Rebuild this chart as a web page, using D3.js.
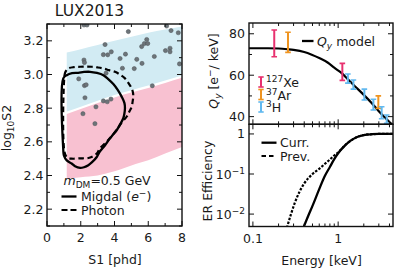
<!DOCTYPE html>
<html><head><meta charset="utf-8">
<script src="https://cdn.jsdelivr.net/npm/d3@7"></script>
<style>
body{margin:0;background:#fff}
svg{display:block}
text{font-family:"DejaVu Sans",sans-serif;fill:#1a1a1a}
</style>
</head><body>
<script>
// ---------------- data ----------------
// Left panel: LUX2013 events
const s1Pts = [2.19,2.37,4.82,7.09,7.35,7.78,3.44,5.91,5.77,5.97,5.61,3.34,3.60,3.81,4.33,4.65,5.32,5.63,6.36,7.02,7.29,7.29,2.19,2.22,4.47,5.17,3.5,7.85,1.88,2.22,2.32,2.25,2.90,2.13,3.34,3.57,3.79,2.84,6.24];
const s2Pts = [3.294,3.294,3.255,3.288,3.261,3.248,3.178,3.208,3.184,3.184,3.166,3.118,3.117,3.135,3.095,3.121,3.09,3.066,3.107,3.142,3.156,3.135,3.086,3.071,3.037,3.035,3.008,3.063,2.974,2.934,2.939,2.862,2.808,2.767,2.843,2.838,2.854,2.708,2.933];
// bands
const bandS1 = [1.17, 2, 3, 4, 5, 6, 7, 8];
const blueHi = [3.13, 3.15, 3.175, 3.2, 3.225, 3.248, 3.268, 3.285];
const blueLo = [2.78, 2.809, 2.844, 2.878, 2.907, 2.934, 2.964, 2.994];
const pinkHi = [2.766, 2.795, 2.83, 2.864, 2.893, 2.92, 2.95, 2.98];
const pinkLo = [2.382, 2.39, 2.40, 2.425, 2.46, 2.49, 2.53, 2.57];
// contours
const migdalS1 = [0.966,0.966,1.167,1.48,1.85,2.19,2.55,2.96,3.34,3.63,3.93,4.18,4.43,4.59,4.62,4.58,4.52,4.36,4.13,3.91,3.73,3.44,3.14,2.95,2.67,2.45,2.19,1.96,1.66,1.46,1.17,1.0];
const migdalS2 = [2.55,2.977,2.996,3.008,3.01,3.015,3.016,3.009,2.996,2.973,2.943,2.91,2.867,2.83,2.80,2.764,2.74,2.708,2.669,2.642,2.621,2.58,2.544,2.51,2.479,2.461,2.449,2.445,2.455,2.471,2.49,2.52];
const photonS1 = [1.04,1.04,1.10,1.26,1.6,1.96,2.31,2.65,2.99,3.34,3.67,4.03,4.33,4.62,4.83,5.02,5.10,5.11,5.07,5.02,4.89,4.74,4.44,4.15,3.83,3.54,3.14,2.95,2.67,2.45,1.96,1.46,1.19];
const photonS2 = [2.538,2.996,3.017,3.036,3.044,3.046,3.047,3.046,3.042,3.036,3.026,3.016,2.999,2.977,2.949,2.917,2.889,2.867,2.836,2.808,2.782,2.752,2.717,2.675,2.633,2.601,2.562,2.53,2.511,2.504,2.502,2.5,2.508];

// Right top: Qy model and calibrations
const qyE = [0.09,0.15,0.2,0.26,0.3,0.4,0.49,0.6,0.76,0.9,1.1,1.3,1.57,2.0,2.47,3.0,3.87,4.4];
const qyV = [73.0,73.0,72.9,72.5,72.2,71.2,69.9,68.3,66.0,63.6,61.0,58.0,54.7,50.5,46.6,42.6,38.0,35.8];
const xeE = [0.178, 1.12], xeLo = [68.9, 57.5], xeHi = [81.8, 65.7];
const arE = [0.258, 2.96], arLo = [71.0, 44.0], arHi = [80.7, 50.0];
const hE = [1.30, 1.51, 2.03, 2.59, 3.24, 3.71];
const hLo = [56.2, 53.3, 48.0, 43.2, 39.0, 36.8];
const hHi = [60.6, 57.7, 53.3, 48.4, 44.8, 40.8];

// Right bottom: ER efficiency
const currE = [0.39,0.45,0.5,0.6,0.7,0.8,0.9,1.0,1.2,1.4,1.7,2.0,2.5,3.0,4.4];
const currV = [0.0045,0.0095,0.016,0.042,0.09,0.15,0.235,0.33,0.51,0.68,0.85,0.94,0.985,1.0,1.0];
const prevE = [0.25,0.28,0.31,0.35,0.4,0.5,0.6,0.7,0.8,0.9,1.0,1.2,1.4,1.7,2.0,2.5,3.0,4.4];
const prevV = [0.0045,0.01,0.019,0.035,0.058,0.1,0.135,0.18,0.23,0.29,0.345,0.52,0.68,0.85,0.94,0.985,1.0,1.0];

// tick labels
const s1Ticks = [0,2,4,6,8];
const s1Minor = [1,3,5,7];
const s2Ticks = [2.2,2.4,2.6,2.8,3.0,3.2];
const s2Minor = [2.1,2.3,2.5,2.7,2.9,3.1,3.3];
const eTicks = [0.1, 1];
const eMinor = [0.2,0.3,0.4,0.5,0.6,0.7,0.8,0.9,2,3,4];
const qyTicks = [40,60,80];
const qyMinor = [50,70];
const effTicks = [1, 0.1, 0.01];
const effLabels = [["1",""],["10","\u22121"],["10","\u22122"]];

// ---------------- drawing ----------------
const W = 395, H = 274;
const svg = d3.select("body").append("svg").attr("width", W).attr("height", H);
const defs = svg.append("defs");

const COL_BLUE = "#d2ebf3", COL_PINK = "#f8c1d1";
const COL_XE = "#e8316f", COL_AR = "#ef9420", COL_H = "#62b9ef";

function tickAxes(g, scaleX, scaleY, xMaj, xMin, yMaj, yMin, x0, x1, y0, y1) {
  const grp = g.append("g").attr("stroke", "#111").attr("stroke-width", 1);
  const mk = (vals, len, f) => vals.forEach(v => f(v, len));
  // bottom & top
  [[xMaj,5],[xMin,3]].forEach(([vals,len]) => vals.forEach(v => {
    const px = scaleX(v);
    grp.append("line").attr("x1",px).attr("x2",px).attr("y1",y0).attr("y2",y0-len);
    grp.append("line").attr("x1",px).attr("x2",px).attr("y1",y1).attr("y2",y1+len);
  }));
  [[yMaj,5],[yMin,3]].forEach(([vals,len]) => vals.forEach(v => {
    const py = scaleY(v);
    grp.append("line").attr("x1",x0).attr("x2",x0+len).attr("y1",py).attr("y2",py);
    grp.append("line").attr("x1",x1).attr("x2",x1-len).attr("y1",py).attr("y2",py);
  }));
}

// ===== Left panel =====
const xL = d3.scaleLinear().domain([0, 8]).range([47, 182]);
const yL = d3.scaleLinear().domain([2.1, 3.3]).range([226, 24]);
defs.append("clipPath").attr("id","clipL").append("rect")
  .attr("x",47).attr("y",24).attr("width",135).attr("height",202);
const gL = svg.append("g");
const pL = gL.append("g").attr("clip-path","url(#clipL)");

const areaBand = (lo, hi) => d3.area()
  .x((d,i) => xL(bandS1[i])).y0((d,i) => yL(lo[i])).y1((d,i) => yL(hi[i]))
  .curve(d3.curveMonotoneX)(bandS1);
pL.append("path").attr("d", areaBand(blueLo, blueHi)).attr("fill", COL_BLUE);
pL.append("path").attr("d", areaBand(pinkLo, pinkHi)).attr("fill", COL_PINK);

pL.selectAll("circle.ev").data(s1Pts).join("circle").attr("class","ev")
  .attr("cx", d => xL(d)).attr("cy", (d,i) => yL(s2Pts[i])).attr("r", 2.1)
  .attr("fill", "#6d7479").attr("stroke", "#4d5357").attr("stroke-width", 0.5);

const contourLine = d3.line().x(d => xL(d[0])).y(d => yL(d[1])).curve(d3.curveCatmullRomClosed.alpha(0.5));
pL.append("path").attr("d", contourLine(photonS1.map((v,i)=>[v,photonS2[i]])))
  .attr("fill","none").attr("stroke","#000").attr("stroke-width",2.2).attr("stroke-dasharray","5.5,3.5");
pL.append("path").attr("d", contourLine(migdalS1.map((v,i)=>[v,migdalS2[i]])))
  .attr("fill","none").attr("stroke","#000").attr("stroke-width",2.3);

tickAxes(gL, xL, yL, s1Ticks, s1Minor, s2Ticks, s2Minor, 47, 182, 226, 24);
gL.append("rect").attr("x",47).attr("y",24).attr("width",135).attr("height",202)
  .attr("fill","none").attr("stroke","#111").attr("stroke-width",1.4);

gL.selectAll("text.xt").data(s1Ticks).join("text").attr("class","xt")
  .attr("x", d => xL(d)).attr("y", 241.5).attr("text-anchor","middle").attr("font-size",12.5).text(d => d);
gL.selectAll("text.yt").data(s2Ticks).join("text").attr("class","yt")
  .attr("x", 43.5).attr("y", d => yL(d) + 4.5).attr("text-anchor","end").attr("font-size",12.5).text(d => d.toFixed(1));

svg.append("text").attr("x", 89.5).attr("y", 16).attr("text-anchor","middle").attr("font-size",15.5).text("LUX2013");
svg.append("text").attr("x", 115).attr("y", 264).attr("text-anchor","middle").attr("font-size",12.5).text("S1 [phd]");
const ylab = svg.append("text").attr("transform","translate(10.5,128) rotate(-90)").attr("text-anchor","middle").attr("font-size",12.5);
ylab.append("tspan").text("log");
ylab.append("tspan").attr("font-size",9).attr("dy",3).text("10");
ylab.append("tspan").attr("dy",-3).text("S2");

// left legend
const mtxt = svg.append("text").attr("x", 63.5).attr("y", 185).attr("font-size",12.5);
mtxt.append("tspan").attr("font-style","italic").text("m");
mtxt.append("tspan").attr("font-size",9).attr("dy",3).text("DM");
mtxt.append("tspan").attr("dy",-3).text("=0.5 GeV");
svg.append("line").attr("x1",61.5).attr("x2",76.5).attr("y1",196.5).attr("y2",196.5).attr("stroke","#000").attr("stroke-width",2.3);
const mg = svg.append("text").attr("x", 81).attr("y", 200.5).attr("font-size",12.5);
mg.append("tspan").text("Migdal (");
mg.append("tspan").attr("font-style","italic").text("e");
mg.append("tspan").attr("font-size",9).attr("dy",-5).text("\u2212");
mg.append("tspan").attr("dy",5).text(")");
svg.append("line").attr("x1",61.5).attr("x2",76.5).attr("y1",210).attr("y2",210).attr("stroke","#000").attr("stroke-width",2.2).attr("stroke-dasharray","6,3");
svg.append("text").attr("x", 81).attr("y", 214.5).attr("font-size",12.5).text("Photon");

// ===== Right panels =====
const xR = d3.scaleLog().domain([0.09, 4.4]).range([249, 393]);
const yQ = d3.scaleLinear().domain([36.3, 85.2]).range([124.3, 23]);
const yE = d3.scaleLog().domain([0.0049, 1.74]).range([226.5, 124.3]);

defs.append("clipPath").attr("id","clipT").append("rect").attr("x",249).attr("y",23).attr("width",144).attr("height",101.3);
defs.append("clipPath").attr("id","clipB").append("rect").attr("x",249).attr("y",124.3).attr("width",144).attr("height",102.2);

// top panel
const gT = svg.append("g");
const pT = gT.append("g").attr("clip-path","url(#clipT)");
pT.append("path").attr("d", d3.line().x((d,i)=>xR(qyE[i])).y(d=>yQ(d)).curve(d3.curveMonotoneX)(qyV))
  .attr("fill","none").attr("stroke","#000").attr("stroke-width",2.2);

function errbars(g, E, lo, hi, col) {
  E.forEach((e,i) => {
    const x = xR(e), y1 = yQ(lo[i]), y2 = yQ(hi[i]);
    g.append("line").attr("x1",x).attr("x2",x).attr("y1",y1).attr("y2",y2).attr("stroke",col).attr("stroke-width",2);
    [y1,y2].forEach(y => g.append("line").attr("x1",x-2.8).attr("x2",x+2.8).attr("y1",y).attr("y2",y).attr("stroke",col).attr("stroke-width",1.6));
  });
}
errbars(pT, xeE, xeLo, xeHi, COL_XE);
errbars(pT, arE, arLo, arHi, COL_AR);
errbars(pT, hE, hLo, hHi, COL_H);

tickAxes(gT, xR, yQ, eTicks, eMinor, qyTicks, qyMinor, 249, 393, 124.3, 23);
gT.append("rect").attr("x",249).attr("y",23).attr("width",144).attr("height",101.3)
  .attr("fill","none").attr("stroke","#111").attr("stroke-width",1.4);
gT.selectAll("text.qt").data(qyTicks).join("text").attr("class","qt")
  .attr("x",245).attr("y",d=>yQ(d)+4.5).attr("text-anchor","end").attr("font-size",12.5).text(d=>d);

// top legend
svg.append("line").attr("x1",302).attr("x2",313.5).attr("y1",41).attr("y2",41).attr("stroke","#000").attr("stroke-width",2.3);
const ql = svg.append("text").attr("x",317).attr("y",45.5).attr("font-size",12.5);
ql.append("tspan").attr("font-style","italic").text("Q");
ql.append("tspan").attr("font-style","italic").attr("font-size",9).attr("dy",3).text("y");
ql.append("tspan").attr("dy",-3).text(" model");

const isoLeg = [["127","Xe",COL_XE,82],["37","Ar",COL_AR,94.5],["3","H",COL_H,107]];
isoLeg.forEach(([m,el,col,yc]) => {
  svg.append("line").attr("x1",261).attr("x2",261).attr("y1",yc-5).attr("y2",yc+5).attr("stroke",col).attr("stroke-width",2);
  [yc-5,yc+5].forEach(y => svg.append("line").attr("x1",258.3).attr("x2",263.7).attr("y1",y).attr("y2",y).attr("stroke",col).attr("stroke-width",1.6));
  const t = svg.append("text").attr("x",266).attr("y",yc+5).attr("font-size",12.5);
  t.append("tspan").attr("font-size",9).attr("dy",-5).text(m);
  t.append("tspan").attr("dy",5).text(el);
});

const qyl = svg.append("text").attr("transform","translate(217.5,71) rotate(-90)").attr("text-anchor","middle").attr("font-size",12.5);
qyl.append("tspan").attr("font-style","italic").text("Q");
qyl.append("tspan").attr("font-style","italic").attr("font-size",9).attr("dy",3).text("y");
qyl.append("tspan").attr("dy",-3).text(" [e");
qyl.append("tspan").attr("font-size",9).attr("dy",-5).text("\u2212");
qyl.append("tspan").attr("dy",5).text("/ keV]");

// bottom panel
const gB = svg.append("g");
const pB = gB.append("g").attr("clip-path","url(#clipB)");
pB.append("path").attr("d", d3.line().x((d,i)=>xR(prevE[i])).y(d=>yE(d)).curve(d3.curveMonotoneX)(prevV))
  .attr("fill","none").attr("stroke","#000").attr("stroke-width",2.2).attr("stroke-dasharray","2.5,1.5");
pB.append("path").attr("d", d3.line().x((d,i)=>xR(currE[i])).y(d=>yE(d)).curve(d3.curveMonotoneX)(currV))
  .attr("fill","none").attr("stroke","#000").attr("stroke-width",2.3);

tickAxes(gB, xR, yE, eTicks, eMinor, effTicks, [], 249, 393, 226.5, 124.3);
gB.append("rect").attr("x",249).attr("y",124.3).attr("width",144).attr("height",102.2)
  .attr("fill","none").attr("stroke","#111").attr("stroke-width",1.4);
effTicks.forEach((v,i) => {
  const t = gB.append("text").attr("x",245).attr("y",yE(v)+4.5).attr("text-anchor","end").attr("font-size",12.5);
  t.append("tspan").text(effLabels[i][0]);
  if (effLabels[i][1]) t.append("tspan").attr("font-size",9).attr("dy",-5).text(effLabels[i][1]);
});
gB.selectAll("text.et").data(eTicks).join("text").attr("class","et")
  .attr("x",d=>xR(d)).attr("y",243).attr("text-anchor","middle").attr("font-size",12.5).text(d=>d);

svg.append("text").attr("x",321.5).attr("y",265).attr("text-anchor","middle").attr("font-size",12.5).text("Energy [keV]");
svg.append("text").attr("transform","translate(211.5,181) rotate(-90)").attr("text-anchor","middle").attr("font-size",12.5).text("ER Efficiency");

// bottom legend
svg.append("line").attr("x1",261.5).attr("x2",276.5).attr("y1",142.7).attr("y2",142.7).attr("stroke","#000").attr("stroke-width",2.3);
svg.append("text").attr("x",280).attr("y",147).attr("font-size",12.5).text("Curr.");
svg.append("line").attr("x1",261.5).attr("x2",276.5).attr("y1",156).attr("y2",156).attr("stroke","#000").attr("stroke-width",2.2).attr("stroke-dasharray","4.5,3");
svg.append("text").attr("x",280).attr("y",160.5).attr("font-size",12.5).text("Prev.");
</script>
</body></html>
